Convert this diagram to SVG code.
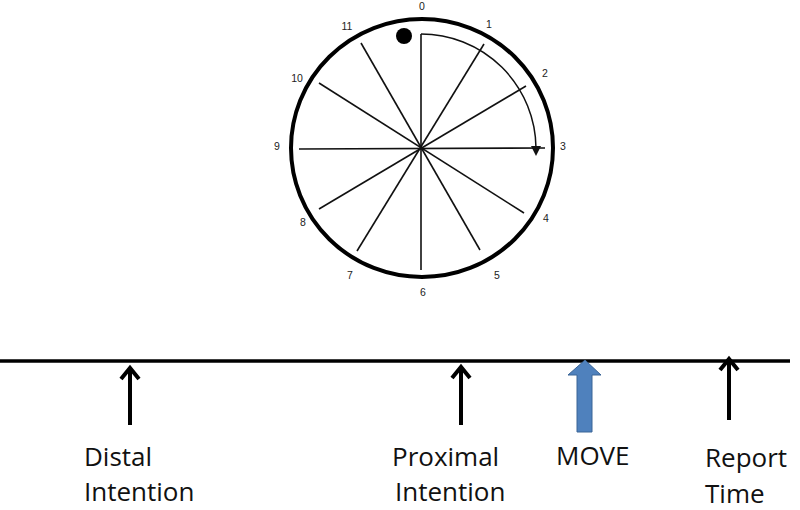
<svg xmlns="http://www.w3.org/2000/svg" width="800" height="510" viewBox="0 0 800 510">
<style>
.num{font-family:"Liberation Sans",Arial,sans-serif;font-size:10.5px;fill:#222;text-anchor:middle}
.lbl{font-family:"Open Sans","Liberation Sans",sans-serif;font-size:26px;fill:#111}
.spoke{stroke:#111;stroke-width:1.6}
.tl{stroke:#000;stroke-width:3.5;fill:none;stroke-linecap:butt}
.ar{stroke:#000;stroke-width:4;fill:none;stroke-linecap:butt}
</style>
<rect width="800" height="510" fill="#fff"/>
<g id="clock">
<ellipse cx="422" cy="148" rx="131" ry="129" fill="none" stroke="#000" stroke-width="4"/>
<line class="spoke" x1="421" y1="34" x2="421" y2="270"/>
<line class="spoke" x1="299" y1="149" x2="545" y2="148"/>
<line class="spoke" x1="484" y1="44" x2="357" y2="251"/>
<line class="spoke" x1="526" y1="86" x2="319" y2="209"/>
<line class="spoke" x1="524" y1="213" x2="319" y2="83"/>
<line class="spoke" x1="480" y1="250" x2="361" y2="43"/>
<circle cx="404" cy="36" r="8" fill="#000"/>
<path d="M421,34 A115,115 0 0 1 536,148" fill="none" stroke="#111" stroke-width="1.5"/>
<polygon points="531,146 541,146 536,156" fill="#111"/>
<text class="num" x="422" y="10">0</text>
<text class="num" x="489" y="28">1</text>
<text class="num" x="545" y="77">2</text>
<text class="num" x="563" y="150">3</text>
<text class="num" x="546" y="222">4</text>
<text class="num" x="497" y="279">5</text>
<text class="num" x="423" y="296">6</text>
<text class="num" x="350" y="279">7</text>
<text class="num" x="303" y="226">8</text>
<text class="num" x="277" y="150">9</text>
<text class="num" x="297" y="82">10</text>
<text class="num" x="347" y="30">11</text>
</g>
<g id="timeline">
<line class="tl" x1="0" y1="361" x2="790" y2="361"/>
</g>
<g id="connectors">
<g id="arrow-distal"><line class="ar" x1="130" y1="368" x2="130" y2="425"/><polyline class="ar" points="121,379 130,368 139,379"/></g>
<g id="arrow-proximal"><line class="ar" x1="461" y1="367" x2="461" y2="425"/><polyline class="ar" points="452,378 461,367 470,378"/></g>
<g id="arrow-report"><line class="ar" x1="729" y1="359" x2="729" y2="420"/><polyline class="ar" points="720,370 729,359 738,370"/></g>
<g id="arrow-move"><polygon points="585,360 601,375 592,375 592,432 577,432 577,375 568,375" fill="#4F81BD" stroke="#3A6496" stroke-width="1"/></g>
</g>
<g id="labels">
<text class="lbl" x="84" y="466">Distal</text>
<text class="lbl" x="84" y="501">Intention</text>
<text class="lbl" x="392" y="466">Proximal</text>
<text class="lbl" x="395" y="501">Intention</text>
<text class="lbl" x="556" y="465">MOVE</text>
<text class="lbl" x="705" y="467">Report</text>
<text class="lbl" x="705" y="503">Time</text>
</g>
</svg>
